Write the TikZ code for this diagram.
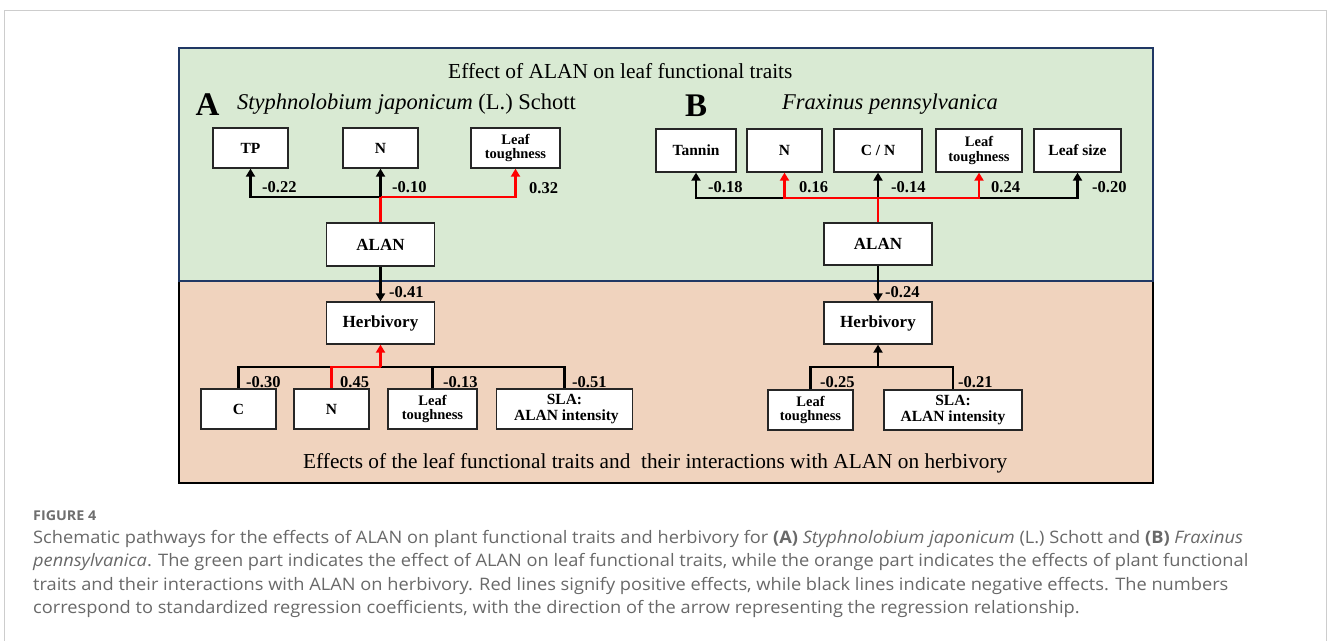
\documentclass[tikz,border=0pt]{standalone}
\usepackage{fontspec}
\setmainfont{Liberation Serif}
\newfontfamily\capfont[FakeStretch=1.06]{Open Sans}
\usetikzlibrary{arrows.meta}
\definecolor{greenbg}{RGB}{217,234,211}
\definecolor{orangebg}{RGB}{240,211,190}
\definecolor{navy}{RGB}{32,56,100}
\definecolor{capgray}{RGB}{105,105,105}
\definecolor{figgray}{RGB}{110,110,110}
\definecolor{framegray}{RGB}{205,205,205}
\definecolor{posred}{RGB}{255,0,0}
\begin{document}
\begin{tikzpicture}[x=1pt,y=-1pt,
  box/.style={draw=black!85,line width=1.3pt,fill=white,inner sep=0pt,align=center,
    font=\fontsize{15.5}{15.5}\selectfont\bfseries},
  bigbox/.style={box,font=\fontsize{17}{17}\selectfont\bfseries},
  twobox/.style={box,font=\fontsize{14.5}{14.5}\selectfont\bfseries},
  negline/.style={draw=black,line width=2.7pt},
  posline/.style={draw=posred,line width=2.7pt},
  arrowtip/.style={-{Triangle[width=9pt,length=8pt]}},
  coef/.style={inner sep=0pt,anchor=west,font=\fontsize{16.5}{16.5}\selectfont\bfseries},
  captxt/.style={inner sep=0pt,anchor=base west,text=capgray,font=\capfont\fontsize{17.2}{17.2}\selectfont}]
\useasboundingbox (0,0) rectangle (1328,640);
\fill[white] (0,0) rectangle (1328,640);
\draw[framegray,line width=1pt] (4.5,700) -- (4.5,10.5) -- (1326.5,10.5) -- (1326.5,700);
% panels
\draw[fill=orangebg,draw=black,line width=2.5pt] (179,281) rectangle (1153,483);
\draw[fill=greenbg,draw=navy,line width=2.5pt] (179,48) rectangle (1153,281);
% titles
\node[inner sep=0pt,anchor=base west,font=\fontsize{21.4}{21.4}\selectfont] (title) at (448,78.3) {Effect of ALAN on leaf functional traits};
\node[inner sep=0pt,anchor=base west,font=\fontsize{33}{33}\selectfont\bfseries] (labA) at (195.5,115.5) {A};
\node[inner sep=0pt,anchor=base west,font=\fontsize{22.5}{22.5}\selectfont] (spA) at (237,109.3) {\textit{Styphnolobium japonicum} (L.) Schott};
\node[inner sep=0pt,anchor=base west,font=\fontsize{33}{33}\selectfont\bfseries] (labB) at (685,116.5) {B};
\node[inner sep=0pt,anchor=base west,font=\fontsize{22.5}{22.5}\selectfont\itshape] (spB) at (782,109.3) {Fraxinus pennsylvanica};
\node[inner sep=0pt,anchor=base west,font=\fontsize{21.3}{21.3}\selectfont] (bottomtitle) at (303,468.3) {Effects of the leaf functional traits and\ \ their interactions with ALAN on herbivory};
% panel A nodes
\node[box,minimum width=75pt,minimum height=40pt] (tpA) at (250.5,148) {TP};
\node[box,minimum width=75pt,minimum height=40pt] (nA) at (380.5,148) {N};
\node[twobox,minimum width=89pt,minimum height=40pt] (ltA) at (515.5,148) {Leaf\\toughness};
\node[bigbox,minimum width=108pt,minimum height=43pt] (alanA) at (380.5,244.5) {ALAN};
\node[bigbox,minimum width=108pt,minimum height=42pt] (herbA) at (380.5,323) {Herbivory};
\node[box,minimum width=75pt,minimum height=40pt] (cA) at (238.5,409) {C};
\node[box,minimum width=75pt,minimum height=40pt] (nbA) at (331.5,409) {N};
\node[twobox,minimum width=89pt,minimum height=40pt] (ltbA) at (432.5,409) {Leaf\\toughness};
\node[box,minimum width=136pt,minimum height=40pt] (slaA) at (564.5,409) {SLA:\\\ ALAN intensity};
\coordinate (jA) at (380.5,197);
\coordinate (jHA) at (380.5,367);
% panel A connectors
\draw[negline,arrowtip] (jA) -| (tpA.south);
\draw[negline,arrowtip] (jA) -- (nA.south);
\draw[posline,arrowtip] (jA) -| (ltA.south);
\draw[posline] (alanA.north) -- (jA);
\draw[negline,arrowtip] (alanA.south) -- (herbA.north);
\draw[negline] (cA.north) |- (jHA);
\draw[negline] (ltbA.north) |- (jHA);
\draw[negline] (slaA.north) |- (jHA);
\draw[posline] (nbA.north) |- (jHA);
\draw[posline,arrowtip] (jHA) -- (herbA.south);
% panel A coefficients
\node[coef] (cA1) at (262,187) {-0.22};
\node[coef] (cA2) at (392,187) {-0.10};
\node[coef] (cA3) at (529,188) {0.32};
\node[coef] (cA4) at (389,292) {-0.41};
\node[coef] (cA5) at (246,382) {-0.30};
\node[coef] (cA6) at (340,382) {0.45};
\node[coef] (cA7) at (443,382) {-0.13};
\node[coef] (cA8) at (572,382) {-0.51};
% panel B nodes
\node[box,minimum width=80pt,minimum height=43pt] (tanB) at (696,150.5) {Tannin};
\node[box,minimum width=75pt,minimum height=43pt] (nB) at (784.5,150.5) {N};
\node[box,minimum width=88pt,minimum height=43pt] (cnB) at (878,150.5) {C / N};
\node[twobox,minimum width=86pt,minimum height=43pt] (ltB) at (979,150.5) {Leaf\\toughness};
\node[box,minimum width=87pt,minimum height=43pt] (lsB) at (1077.5,150.5) {Leaf size};
\node[bigbox,minimum width=108pt,minimum height=42pt] (alanB) at (878,244) {ALAN};
\node[bigbox,minimum width=108pt,minimum height=42pt] (herbB) at (878,323) {Herbivory};
\node[twobox,minimum width=85pt,minimum height=40pt] (ltbB) at (810.5,410) {Leaf\\toughness};
\node[box,minimum width=138pt,minimum height=40pt] (slaB) at (953,410) {SLA:\\ALAN intensity};
\coordinate (jB) at (878,198);
\coordinate (jHB) at (878,367);
% panel B connectors
\draw[negline,arrowtip] (jB) -| (tanB.south);
\draw[negline,arrowtip] (jB) -| (lsB.south);
\draw[negline,arrowtip] (jB) -- (cnB.south);
\draw[posline,arrowtip] (jB) -| (nB.south);
\draw[posline,arrowtip] (jB) -| (ltB.south);
\draw[posline] (alanB.north) -- (jB);
\draw[negline,arrowtip] (alanB.south) -- (herbB.north);
\draw[negline] (ltbB.north) |- (jHB);
\draw[negline] (slaB.north) |- (jHB);
\draw[negline,arrowtip] (jHB) -- (herbB.south);
% panel B coefficients
\node[coef] (cB1) at (708,187) {-0.18};
\node[coef] (cB2) at (799,187) {0.16};
\node[coef] (cB3) at (891,187) {-0.14};
\node[coef] (cB4) at (991,187) {0.24};
\node[coef] (cB5) at (1092,187) {-0.20};
\node[coef] (cB6) at (885,292) {-0.24};
\node[coef] (cB7) at (820,382) {-0.25};
\node[coef] (cB8) at (958,382) {-0.21};
% caption
\node[captxt,text=figgray,font=\capfont\fontsize{13.5}{13.5}\selectfont\bfseries] (fig) at (33,520) {FIGURE 4};
\node[captxt] (cap1) at (33,543.3) {Schematic pathways for the effects of ALAN on plant functional traits and herbivory for \textbf{(A)} \textit{Styphnolobium japonicum} (L.) Schott and \textbf{(B)} \textit{Fraxinus}};
\node[captxt] (cap2) at (33,566.5) {\textit{pennsylvanica}. The green part indicates the effect of ALAN on leaf functional traits, while the orange part indicates the effects of plant functional};
\node[captxt] (cap3) at (33,590) {traits and their interactions with ALAN on herbivory. Red lines signify positive effects, while black lines indicate negative effects. The numbers};
\node[captxt] (cap4) at (33,613.3) {correspond to standardized regression coefficients, with the direction of the arrow representing the regression relationship.};
\end{tikzpicture}
\end{document}
